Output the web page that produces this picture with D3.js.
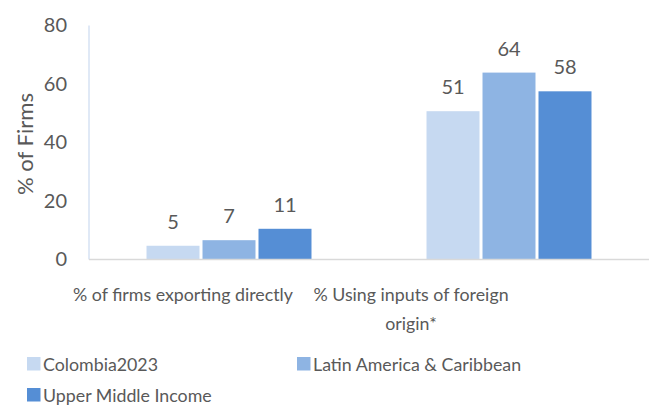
<!DOCTYPE html>
<html><head><meta charset="utf-8">
<script src="https://cdn.jsdelivr.net/npm/d3@7"></script>
<style>body{margin:0;background:#fff}svg{display:block}text{font-family:Lato,"Open Sans",sans-serif;fill:#595959}</style>
</head><body><svg id="c" width="649" height="406"></svg>
<script>
const categories = ["% of firms exporting directly", "% Using inputs of foreign origin*"];
const categoryLines = [["% of firms exporting directly"], ["% Using inputs of foreign", "origin*"]];
const seriesNames = ["Colombia2023", "Latin America & Caribbean", "Upper Middle Income"];
const colombia = [4.7, 50.7];
const lac = [6.6, 63.9];
const umi = [10.5, 57.5];
const yTicks = [0, 20, 40, 60, 80];
const colors = ["#C6D9F1", "#8EB4E3", "#558ED5"];

(function () {
const series = [colombia, lac, umi];
const svg = d3.select("#c");
const pl = 89, pr = 649, pt = 25.5, pb = 259.5;
const x = d3.scaleBand().domain(categories).range([pl, pr]).paddingInner(0).paddingOuter(0);
const xs = d3.scaleBand().domain(d3.range(3)).range([0, x.bandwidth()]).paddingInner(0.0536).paddingOuter(1.027);
const y = d3.scaleLinear().domain([0, 80]).range([pb, pt]);

svg.append("line").attr("x1", pl).attr("x2", pl).attr("y1", pt).attr("y2", pb).attr("stroke", "#D6E2F3").attr("stroke-width", 1.5);

const yAxis = d3.axisLeft(y).tickValues(yTicks).tickSize(0).tickPadding(22);
const ga = svg.append("g").attr("transform", `translate(${pl},0)`).call(yAxis);
ga.select(".domain").remove();
ga.selectAll("text").style("font-size", "20px").attr("fill", "#595959").style("font-family", "Lato,sans-serif");

categories.forEach((c, ci) => {
  series.forEach((s, si) => {
    const v = s[ci];
    svg.append("rect").attr("x", x(c) + xs(si)).attr("width", xs.bandwidth())
      .attr("y", y(v)).attr("height", y(0) - y(v)).attr("fill", colors[si]);
    svg.append("text").attr("x", x(c) + xs(si) + xs.bandwidth() / 2).attr("y", y(v) - 17)
      .attr("text-anchor", "middle").style("font-size", "20px").text(d3.format(".0f")(v));
  });
});

svg.append("line").attr("x1", pl).attr("x2", pr).attr("y1", pb).attr("y2", pb).attr("stroke", "#D9D9D9").attr("stroke-width", 1.5);

const labelCenters = [183, 411];
categoryLines.forEach((lines, ci) => {
  lines.forEach((t, li) => {
    svg.append("text").attr("x", labelCenters[ci]).attr("y", 301 + li * 29)
      .attr("text-anchor", "middle").style("font-size", "17.8px").text(t);
  });
});

const yt = svg.append("text").attr("transform", "translate(33,144) rotate(-90)").attr("text-anchor", "middle")
  .style("font-size", "18px").text("% of Firms");
const len = yt.node().getComputedTextLength();
yt.style("font-size", (18 * 102 / len) + "px");

const legendPos = [[27, 364], [297, 364], [27, 395]];
seriesNames.forEach((n, i) => {
  const [lx, ly] = legendPos[i];
  svg.append("rect").attr("x", lx).attr("y", ly - 7).attr("width", 13.5).attr("height", 13.5).attr("fill", colors[i]);
  svg.append("text").attr("x", lx + 16).attr("y", ly + 7).style("font-size", "17.8px").text(n);
});
})();
</script></body></html>
